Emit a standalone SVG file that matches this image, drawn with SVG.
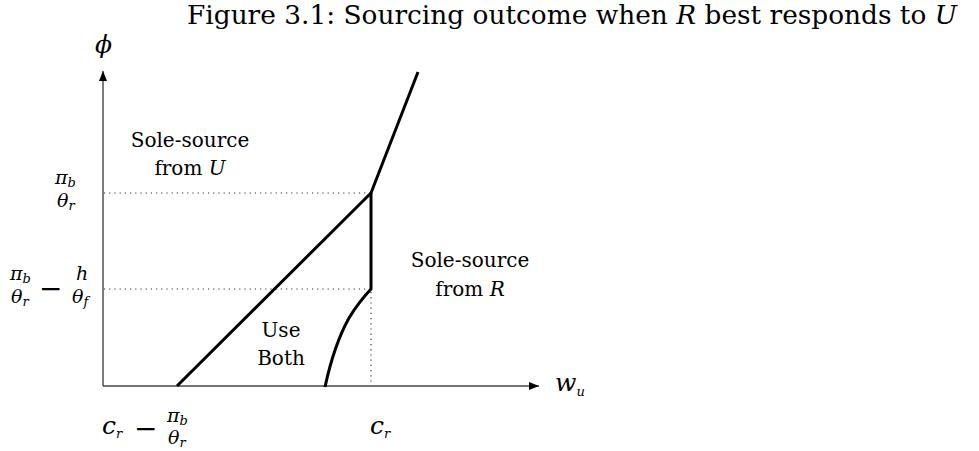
<svg xmlns="http://www.w3.org/2000/svg" width="979" height="451" viewBox="0 0 979 451" font-family="'DejaVu Serif', serif">
<defs>
<style>
.t{font-size:26px}
.l{font-size:20px;text-anchor:middle}
.m{font-style:italic}
.f{font-size:19px}
.s{font-size:13px}
.axis{stroke:#444;stroke-width:1.4;fill:none}
.thick{stroke:#000;stroke-width:3;fill:none;stroke-linejoin:miter}
.dot{stroke:#333;stroke-width:1.2;stroke-dasharray:1.2 4;fill:none}
</style>
<marker id="arr" viewBox="0 0 10 8" refX="10" refY="4" markerWidth="10" markerHeight="8" markerUnits="userSpaceOnUse" orient="auto">
<path d="M0,0 L10,4 L0,8 Z" fill="#000"/>
</marker>
</defs>
<rect width="979" height="451" fill="#fff"/>
<text class="t" x="187" y="24" textLength="770" lengthAdjust="spacingAndGlyphs">Figure 3.1: Sourcing outcome when <tspan class="m">R</tspan> best responds to <tspan class="m">U</tspan></text>

<g id="connectors">
<line id="y-axis" class="axis" x1="103" y1="386" x2="103" y2="71" marker-end="url(#arr)"/>
<line id="x-axis" class="axis" x1="103" y1="386" x2="539" y2="386" marker-end="url(#arr)"/>
<line class="dot" x1="104" y1="193" x2="370" y2="193"/>
<line class="dot" x1="104" y1="289" x2="370" y2="289"/>
<line class="dot" x1="371" y1="292" x2="371" y2="385"/>
<path class="thick" d="M177,386 L371,193 L418,72"/>
<path class="thick" d="M371,193 L371,289 Q358,303 349,318 Q334,345 325,387"/>
</g>

<g id="label-phi"><text class="m" x="95" y="53" font-size="25">ϕ</text></g>
<g id="label-wu"><text class="m" x="555" y="391" font-size="25">w<tspan class="s" dy="5">u</tspan></text></g>

<g id="tick-pib-thetar">
<text class="m f" x="55" y="184">π<tspan class="s" dy="3">b</tspan></text>
<text class="m f" x="57" y="207">θ<tspan class="s" dy="3">r</tspan></text>
</g>
<g id="tick-pib-thetar-h-thetaf">
<text class="m f" x="10" y="280">π<tspan class="s" dy="3">b</tspan></text>
<text class="m f" x="11" y="303">θ<tspan class="s" dy="3">r</tspan></text>
<text x="39" y="298" font-size="28">−</text>
<text class="m f" x="76" y="280">h</text>
<text class="m f" x="72" y="303">θ<tspan class="s" dy="3">f</tspan></text>
</g>
<g id="tick-cr-pib-thetar">
<text class="m" x="102" y="434" font-size="25">c<tspan class="s" dy="4">r</tspan></text>
<text x="134" y="438" font-size="28">−</text>
<text class="m f" x="167" y="422">π<tspan class="s" dy="3">b</tspan></text>
<text class="m f" x="168" y="444">θ<tspan class="s" dy="3">r</tspan></text>
</g>
<g id="tick-cr"><text class="m" x="370" y="434" font-size="25">c<tspan class="s" dy="4">r</tspan></text></g>

<g id="region-U"><text class="l" x="190" y="147">Sole-source</text><text class="l" x="190" y="175">from <tspan class="m">U</tspan></text></g>
<g id="region-R"><text class="l" x="470" y="267">Sole-source</text><text class="l" x="470" y="296">from <tspan class="m">R</tspan></text></g>
<g id="region-both"><text class="l" x="281" y="337">Use</text><text class="l" x="281" y="365">Both</text></g>
</svg>
